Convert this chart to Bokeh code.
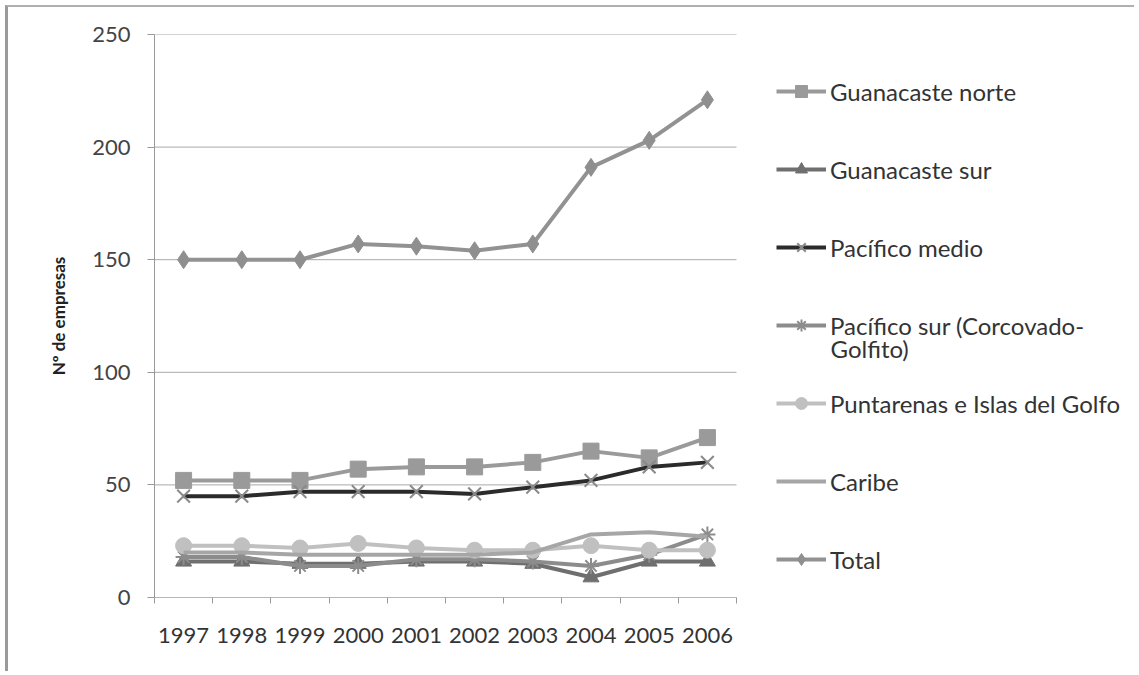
from bokeh.plotting import figure
from bokeh.models import (Range1d, FixedTicker, Legend, LegendItem, Label)
from bokeh.embed import file_html
from bokeh.resources import INLINE

years = ["1997", "1998", "1999", "2000", "2001", "2002", "2003", "2004", "2005", "2006"]
guanacaste_norte = [52, 52, 52, 57, 58, 58, 60, 65, 62, 71]
guanacaste_sur = [16, 16, 15, 15, 16, 16, 15, 9, 16, 16]
pacifico_medio = [45, 45, 47, 47, 47, 46, 49, 52, 58, 60]
pacifico_sur = [18, 18, 14, 14, 17, 17, 16, 14, 19, 28]
puntarenas = [23, 23, 22, 24, 22, 21, 21, 23, 21, 21]
caribe = [20, 20, 19, 19, 19, 19, 20, 28, 29, 27]
total = [150, 150, 150, 157, 156, 154, 157, 191, 203, 221]
y_ticks = [0, 50, 100, 150, 200, 250]

FONT = "Lato"
n = len(years)
xs = [i + 0.5 for i in range(n)]
GRAY = "#9a9a9a"
XMAX = n * 983 / 582

# the frame extends to the right edge so the legend (inside the frame) is not clipped;
# the category area itself spans x = 0 .. n
p = figure(width=1129, height=666, output_backend="svg", toolbar_location=None,
           x_range=Range1d(0, XMAX), y_range=Range1d(0, 250),
           min_border_left=146, min_border_right=0, min_border_top=27,
           min_border_bottom=76)
p.outline_line_color = None
p.background_fill_color = "white"
p.border_fill_color = "white"
p.styles = {"border-left": "3px solid #9a9a9a", "border-top": "2px solid #b0b0b0",
            "margin-left": "5px", "margin-top": "5px"}

# x axis: labels at category centres, ticks at category boundaries
p.xaxis.ticker = FixedTicker(ticks=xs, minor_ticks=list(range(n + 1)))
p.xaxis.major_label_overrides = {x: y for x, y in zip(xs, years)}
p.xaxis.major_tick_out = 0
p.xaxis.major_tick_in = 0
p.xaxis.minor_tick_out = 6
p.xaxis.minor_tick_in = 0
p.xaxis.minor_tick_line_color = GRAY
p.xaxis.axis_line_color = None
p.xaxis.major_label_standoff = 24
p.xaxis.major_label_text_font = FONT
p.xaxis.major_label_text_font_size = "22px"
p.xaxis.major_label_text_color = "#333333"

p.yaxis.ticker = FixedTicker(ticks=y_ticks)
p.yaxis.minor_tick_line_color = None
p.yaxis.major_tick_out = 7
p.yaxis.major_tick_in = 0
p.yaxis.major_tick_line_color = GRAY
p.yaxis.axis_line_color = GRAY
p.yaxis.major_label_standoff = 17
p.yaxis.major_label_text_font = FONT
p.yaxis.major_label_text_font_size = "22px"
p.yaxis.major_label_text_color = "#444444"
p.yaxis.axis_label = "Nº de empresas"
p.yaxis.axis_label_text_font = FONT
p.yaxis.axis_label_text_font_style = "bold"
p.yaxis.axis_label_text_font_size = "17px"
p.yaxis.axis_label_text_color = "#222222"
p.yaxis.axis_label_standoff = 20

p.xgrid.grid_line_color = None
p.ygrid.grid_line_color = None

# horizontal gridlines over the category area, and the x axis line at 0
p.segment(x0=[0] * len(y_ticks), x1=[n] * len(y_ticks), y0=y_ticks, y1=y_ticks,
          line_color="#a8a8a8", line_width=1)
p.segment(x0=[0], x1=[n], y0=[0], y1=[0], line_color=GRAY, line_width=1)

LW = 4
series = [
    ("Guanacaste norte", guanacaste_norte, "#9a9a9a", "square", "#9a9a9a", 16),
    ("Guanacaste sur", guanacaste_sur, "#6f6f6f", "triangle", "#6f6f6f", 16),
    ("Pacífico medio", pacifico_medio, "#2b2b2b", "x", "#8a8a8a", 18),
    ("Pacífico sur (Corcovado-", pacifico_sur, "#8c8c8c", "asterisk", "#8c8c8c", 16),
    ("Puntarenas e Islas del Golfo", puntarenas, "#c0c0c0", "circle", "#c0c0c0", 16),
    ("Caribe", caribe, "#a6a6a6", None, None, 0),
    ("Total", total, "#929292", "diamond", "#8f8f8f", 18),
]

legend_items = []
for name, vals, lc, marker, mc, ms in series:
    rs = [p.line(xs, vals, line_color=lc, line_width=LW)]
    if marker is not None:
        if marker in ("x", "asterisk"):
            rs.append(p.scatter(xs, vals, marker=marker, size=ms, line_color=mc,
                                line_width=2, fill_color=None))
        else:
            rs.append(p.scatter(xs, vals, marker=marker, size=ms, line_color=mc,
                                fill_color=mc, line_width=1))
    legend_items.append(LegendItem(label=name, renderers=rs))

lg = Legend(items=legend_items, location=(622, 23),
            glyph_width=50, glyph_height=30, label_height=30,
            label_standoff=4, padding=0, margin=0, spacing=48,
            border_line_color=None, background_fill_alpha=0,
            label_text_font=FONT, label_text_font_size="24px",
            label_text_color="#333333")
p.add_layout(lg, "center")

# second line of the wrapped legend label
p.add_layout(Label(x=n * 676 / 582, y=110.6, text="Golfito)", text_font=FONT,
                   text_font_size="24px", text_color="#333333",
                   text_baseline="middle"))

open("out.html", "w").write(file_html(p, INLINE))
